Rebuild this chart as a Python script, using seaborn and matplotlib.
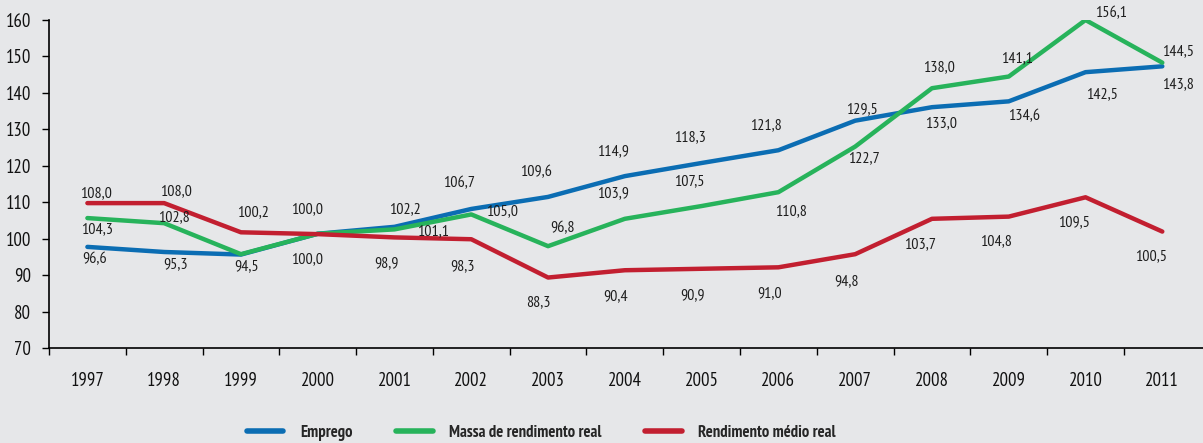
import matplotlib
matplotlib.use("Agg")
import matplotlib.pyplot as plt
from matplotlib.lines import Line2D
import seaborn as sns
import pandas as pd

years = list(range(1997, 2012))
series_names = ["Emprego", "Massa de rendimento real", "Rendimento médio real"]

# line heights as drawn in the reference
emprego = [97.8, 96.4, 95.7, 101.4, 103.3, 108.2, 111.5, 117.2, 120.8, 124.3,
           132.4, 136.1, 137.7, 145.7, 147.3]
massa = [105.7, 104.3, 95.8, 101.4, 102.6, 106.7, 98.0, 105.5, 109.0, 112.8,
         125.3, 141.3, 144.5, 160.0, 148.3]
rendimento = [109.8, 109.8, 101.8, 101.3, 100.4, 99.9, 89.4, 91.4, 91.8, 92.2,
              95.8, 105.5, 106.1, 111.4, 102.0]

# printed value labels
emprego_labels = ["96,6", "95,3", "94,5", "100,0", "102,2", "106,7", "109,6", "114,9",
                  "118,3", "121,8", "129,5", "133,0", "134,6", "142,5", "143,8"]
massa_labels = ["104,3", "102,8", "", "", "101,1", "105,0", "96,8", "103,9",
                "107,5", "110,8", "122,7", "138,0", "141,1", "156,1", "144,5"]
rendimento_labels = ["108,0", "108,0", "100,2", "100,0", "98,9", "98,3", "88,3", "90,4",
                     "90,9", "91,0", "94,8", "103,7", "104,8", "109,5", "100,5"]

# label offsets in pixels (dx right, dy down) relative to each point
emprego_off = [(7, 12), (11, 12), (6, 12), (-11, 25), (10, -18), (-12, -26), (-12, -25),
               (-12, -25), (-12, -26), (-12, -25), (7, -12), (9, 16), (15, 15), (16, 22), (16, 18)]
massa_off = [(10, 11), (10, -6), (0, 0), (0, 0), (39, 2), (31, -3), (14, -18), (-12, -26),
             (-12, -25), (13, 19), (9, 12), (7, -21), (8, -18), (26, -7), (16, -12)]
rendimento_off = [(9, -10), (12, -12), (12, -20), (-11, -25), (-8, 26), (-9, 27), (-10, 25),
                  (-9, 26), (-9, 26), (-9, 26), (-9, 27), (-12, 25), (-13, 25), (-12, 25), (-11, 25)]

colors = ["#0b6db3", "#27b35b", "#c21f30"]
bg = "#e6e7e9"

sns.set_style("white")
plt.rcParams["font.family"] = ["PT Sans Narrow", "DejaVu Sans"]

df = pd.DataFrame({
    "year": years * 3,
    "value": emprego + massa + rendimento,
    "series": [series_names[0]] * 15 + [series_names[1]] * 15 + [series_names[2]] * 15,
})

fig = plt.figure(figsize=(12.03, 4.43), dpi=100, facecolor=bg)
ax = fig.add_axes([49 / 1203, 1 - 348.3 / 443, 1 - 49 / 1203, (348.3 - 20) / 443])
ax.set_facecolor(bg)

sns.lineplot(data=df, x="year", y="value", hue="series", hue_order=series_names,
             palette=colors, linewidth=3.2, legend=False, ax=ax, sort=False)

for vals, labs, offs in [(emprego, emprego_labels, emprego_off),
                         (massa, massa_labels, massa_off),
                         (rendimento, rendimento_labels, rendimento_off)]:
    for yr, v, lab, (dx, dy) in zip(years, vals, labs, offs):
        if lab:
            ax.annotate(lab, (yr, v), xytext=(dx, -dy), textcoords="offset pixels",
                        ha="center", va="center", fontsize=11.5, color="#1e1e1e")

ax.set_xlim(years[0] - 0.5, years[-1] + 0.53)
ax.set_ylim(70, 160)
ax.set_yticks(range(70, 161, 10))
ax.tick_params(axis="y", length=5, width=1, color="black", labelsize=13.5, pad=8,
               direction="out", left=True, labelcolor="#111111")
ax.set_xticks([y - 0.5 for y in years])
ax.set_xticklabels([])
ax.set_xticks(years, minor=True)
ax.set_xticklabels([str(y) for y in years], minor=True)
ax.tick_params(axis="x", which="major", length=5, width=1, color="black", direction="out", bottom=True)
ax.tick_params(axis="x", which="minor", length=0, labelsize=13.5, pad=17, labelcolor="#111111")
ax.set_xlabel("")
ax.set_ylabel("")
for s in ["top", "right"]:
    ax.spines[s].set_visible(False)
for s in ["left", "bottom"]:
    ax.spines[s].set_color("black")
    ax.spines[s].set_linewidth(1.2)

handles = [Line2D([0], [0], color=c, linewidth=4) for c in colors]
leg = fig.legend(handles, series_names, loc="center", bbox_to_anchor=(0.45, 0.022),
                 ncol=3, frameon=False, handlelength=2.2, handletextpad=1.0,
                 columnspacing=2.6, prop={"weight": "bold", "size": 12})

fig.savefig("out.png", dpi=100, facecolor=bg)
